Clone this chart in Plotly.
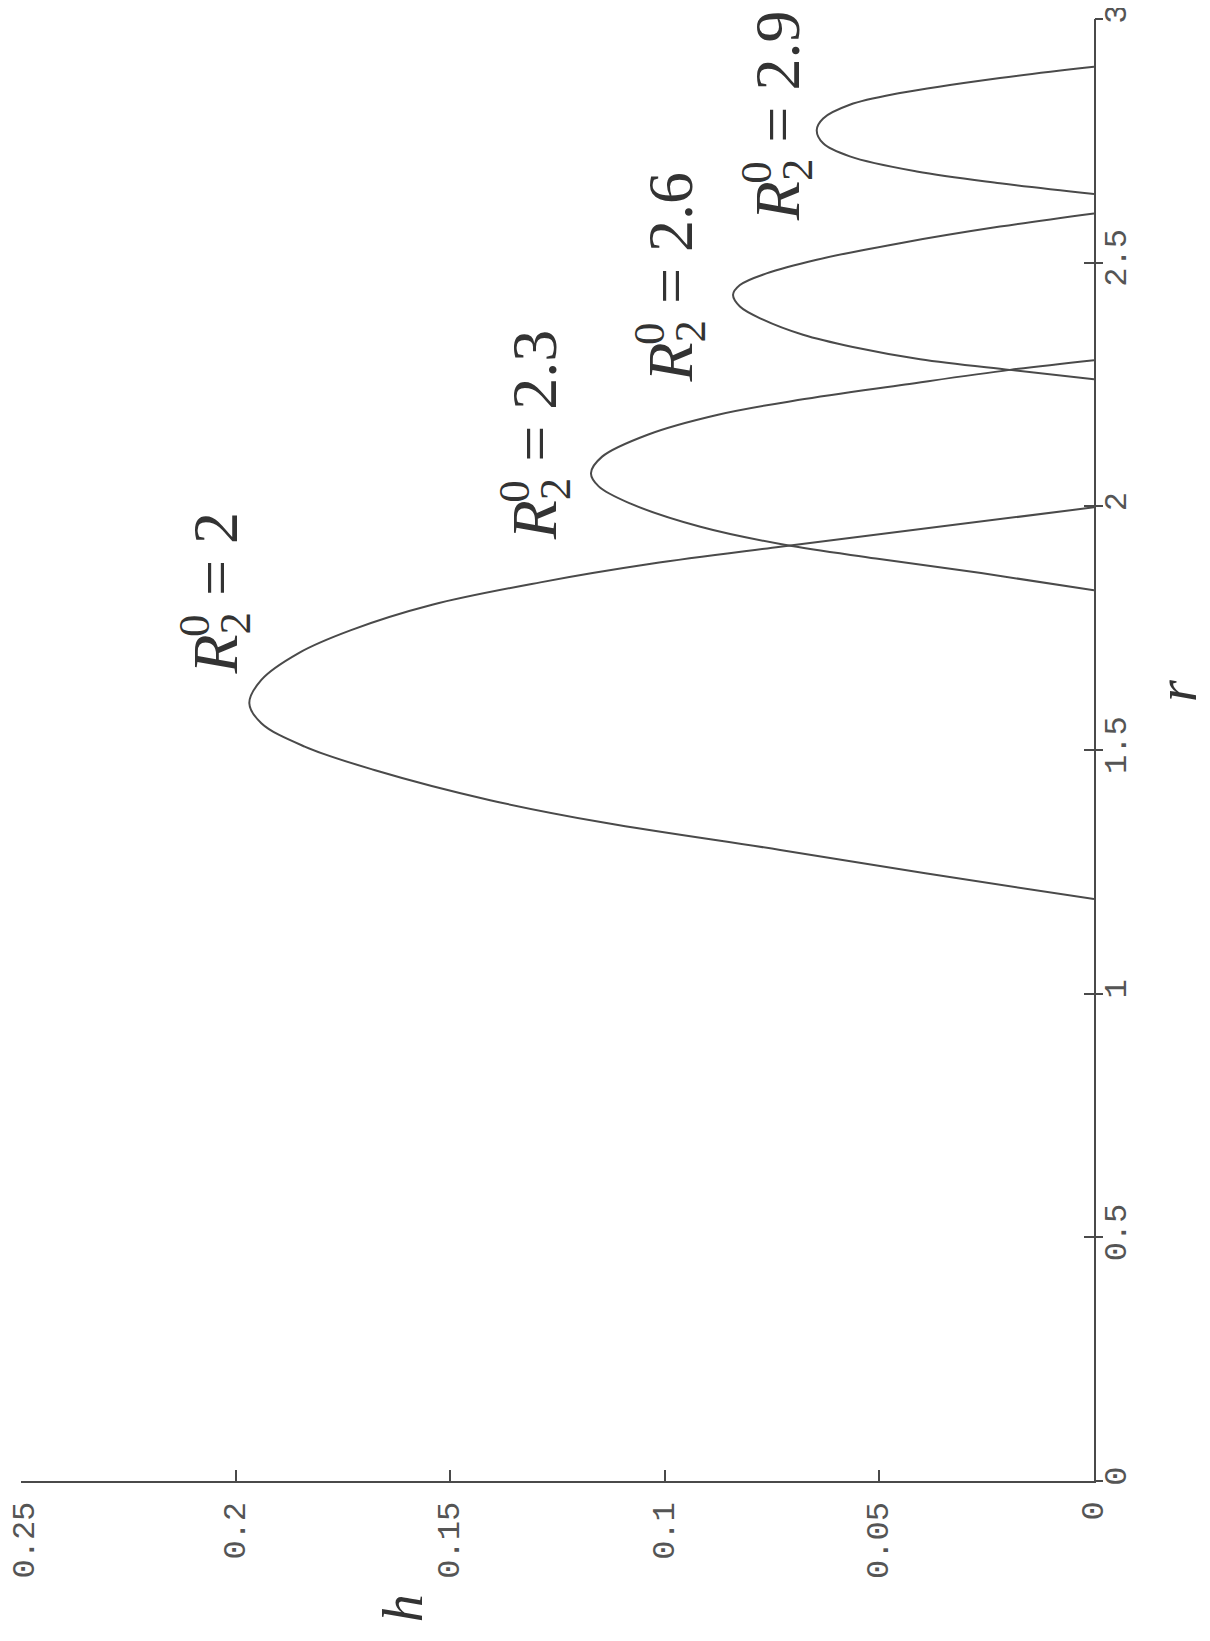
import plotly.graph_objects as go

# curve samples: r (vertical axis) and h (horizontal axis)
r_20 = [1.194, 1.247, 1.295, 1.350, 1.397, 1.459, 1.507, 1.555, 1.596, 1.644, 1.699, 1.746, 1.798, 1.844, 1.882, 1.917, 1.962, 1.998]
h_20 = [0.0, 0.0393, 0.0731, 0.1136, 0.1407, 0.1677, 0.1839, 0.1940, 0.1968, 0.1940, 0.1853, 0.1731, 0.1542, 0.1290, 0.1032, 0.0731, 0.0325, 0.0]

r_23 = [1.828, 1.863, 1.893, 1.921, 1.958, 2.006, 2.041, 2.068, 2.102, 2.147, 2.188, 2.218, 2.250, 2.280, 2.300]
h_23 = [0.0, 0.0263, 0.0508, 0.0721, 0.0917, 0.1081, 0.1154, 0.1172, 0.1146, 0.1040, 0.0876, 0.0690, 0.0440, 0.0196, 0.0]

r_26 = [2.261, 2.280, 2.302, 2.327, 2.352, 2.383, 2.410, 2.434, 2.454, 2.478, 2.506, 2.540, 2.574, 2.601]
h_26 = [0.0, 0.0196, 0.0405, 0.0562, 0.0678, 0.0771, 0.0825, 0.0841, 0.0825, 0.0763, 0.0646, 0.0452, 0.0219, 0.0]

r_29 = [2.641, 2.663, 2.687, 2.718, 2.745, 2.772, 2.796, 2.824, 2.848, 2.879, 2.902]
h_29 = [0.0, 0.0219, 0.0413, 0.0569, 0.0631, 0.0646, 0.0631, 0.0569, 0.0452, 0.0219, 0.0]

# curve labels: value, and where the label starts (h, r)
label_values = ['2', '2.3', '2.6', '2.9']
label_h = [0.2036, 0.1291, 0.0976, 0.0727]
label_r = [1.650, 1.927, 2.249, 2.582]

h_ticks = [0, 0.05, 0.1, 0.15, 0.2, 0.25]
h_ticktext = ['0', '0.05', '0.1', '0.15', '0.2', '0.25']
r_ticks = [0, 0.5, 1, 1.5, 2, 2.5, 3]
r_ticktext = ['0', '0.5', '1', '1.5', '2', '2.5', '3']

INK = '#4a4a4a'
TEXT = '#333333'
TICK_FONT = dict(family='Liberation Mono', size=32, color='#555555')
SERIF = 'Liberation Serif'

fig = go.Figure()

for rr, hh in [(r_20, h_20), (r_23, h_23), (r_26, h_26), (r_29, h_29)]:
    fig.add_trace(go.Scatter(
        x=hh, y=rr,
        mode='lines',
        line=dict(color=INK, width=2, shape='spline', smoothing=1.0),
        hoverinfo='skip',
        showlegend=False
    ))

# empty trace so the overlay axis (outer half of the r ticks) is drawn
fig.add_trace(go.Scatter(x=[], y=[], yaxis='y2', showlegend=False))

annotations = []
for val, hx, ry in zip(label_values, label_h, label_r):
    annotations.append(dict(
        x=hx, y=ry, xref='x', yref='y',
        xanchor='center', yanchor='bottom',
        text='<i>R</i><sub>2</sub> = ' + val,
        showarrow=False, textangle=-90,
        font=dict(family=SERIF, size=64, color=TEXT)
    ))
    # superscript 0 stacked over the subscript 2
    annotations.append(dict(
        x=hx, y=ry, xref='x', yref='y',
        xanchor='center', yanchor='middle',
        text='0', xshift=-26, yshift=51,
        showarrow=False, textangle=-90,
        font=dict(family=SERIF, size=45, color=TEXT)
    ))

# h tick labels, rotated like the rest of the page
for val, txt in zip(h_ticks, h_ticktext):
    annotations.append(dict(
        x=val, y=0, xref='x', yref='paper',
        xanchor='center', yanchor='top', yshift=-19,
        xshift=4 if val == 0.25 else 0,
        text=txt, showarrow=False, textangle=-90,
        font=TICK_FONT
    ))

# axis names
annotations.append(dict(
    x=0.161, y=-0.098, xref='x', yref='paper',
    text='<i>h</i>', showarrow=False, textangle=-90,
    font=dict(family=SERIF, size=56, color=TEXT)
))
annotations.append(dict(
    x=1.108, y=1.621, xref='paper', yref='y',
    text='<i>r</i>', showarrow=False, textangle=-90,
    font=dict(family=SERIF, size=56, color=TEXT)
))

# the page body adds 8px, so the figure is 8px smaller than the window
fig.update_layout(
    width=1202,
    height=1633,
    margin=dict(l=13, r=116, t=11, b=160),
    paper_bgcolor='white',
    plot_bgcolor='white',
    showlegend=False,
    xaxis=dict(
        range=[0.25, 0],
        tickvals=h_ticks, showticklabels=False,
        ticks='inside', ticklen=11, tickwidth=1.5, tickcolor=INK,
        showline=True, linecolor=INK, linewidth=2,
        showgrid=False, zeroline=False, automargin=False
    ),
    yaxis=dict(
        range=[0, 3], side='right',
        tickvals=r_ticks, ticktext=r_ticktext,
        tickangle=-90, tickfont=TICK_FONT,
        ticks='inside', ticklen=10, tickwidth=1.5, tickcolor=INK,
        ticklabelstandoff=-8, ticklabeloverflow='allow',
        showline=True, linecolor=INK, linewidth=2,
        showgrid=False, zeroline=False, automargin=False
    ),
    yaxis2=dict(
        range=[0, 3], side='right', overlaying='y', anchor='x',
        tickvals=r_ticks, showticklabels=False,
        ticks='outside', ticklen=8, tickwidth=1.5, tickcolor=INK,
        showline=False, showgrid=False, zeroline=False, automargin=False
    ),
    annotations=annotations
)

fig.write_html("out.html")
